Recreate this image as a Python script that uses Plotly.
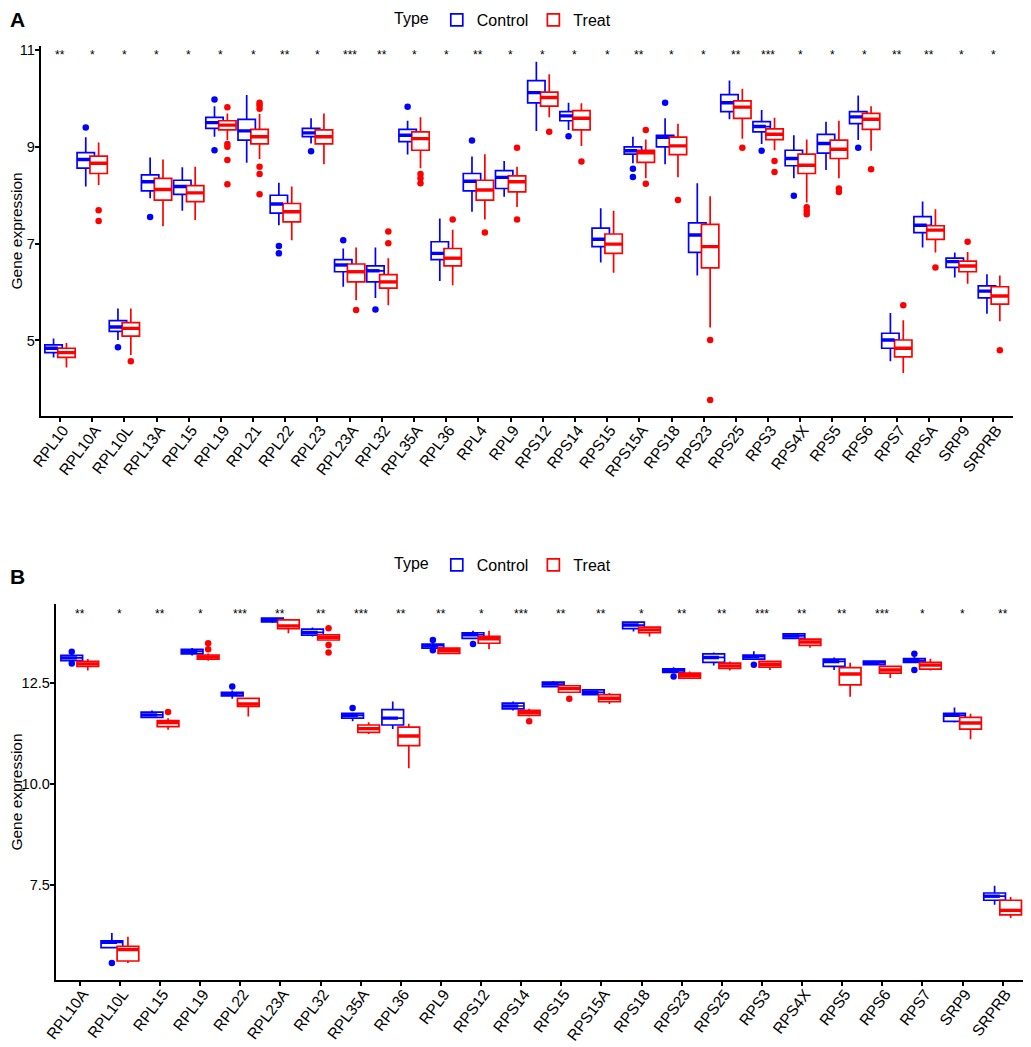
import plotly.graph_objects as go

# ---------------- panel A data ----------------
genes_a = ["RPL10", "RPL10A", "RPL10L", "RPL13A", "RPL15", "RPL19", "RPL21", "RPL22",
           "RPL23", "RPL23A", "RPL32", "RPL35A", "RPL36", "RPL4", "RPL9", "RPS12",
           "RPS14", "RPS15", "RPS15A", "RPS18", "RPS23", "RPS25", "RPS3", "RPS4X",
           "RPS5", "RPS6", "RPS7", "RPSA", "SRP9", "SRPRB"]
sig_a = ["**", "*", "*", "*", "*", "*", "*", "**", "*", "***", "**", "*", "*", "**", "*",
         "*", "*", "*", "**", "*", "*", "**", "***", "*", "*", "*", "**", "**", "*", "*"]

# control, panel A
ctrl_a_low = [4.65, 8.18, 5.01, 7.94, 7.68, 9.21, 8.67, 7.38, 9.07, 6.11, 5.88, 8.84, 6.23, 7.66, 7.97,
              9.33, 9.35, 6.61, 8.66, 8.64, 6.34, 9.57, 9.06, 8.35, 8.52, 9.14, 4.57, 6.92, 6.30, 5.55]
ctrl_a_q1 = [4.75, 8.56, 5.19, 8.09, 8.02, 9.38, 9.14, 7.63, 9.21, 6.42, 6.21, 9.11, 6.67, 8.09, 8.14,
             9.91, 9.54, 6.94, 8.85, 9.00, 6.82, 9.73, 9.31, 8.61, 8.87, 9.48, 4.84, 7.23, 6.51, 5.88]
ctrl_a_med = [4.84, 8.74, 5.28, 8.28, 8.18, 9.50, 9.33, 7.82, 9.29, 6.56, 6.44, 9.24, 6.80, 8.29, 8.37,
              10.12, 9.64, 7.09, 8.92, 9.20, 7.18, 9.91, 9.42, 8.76, 9.07, 9.62, 5.01, 7.38, 6.63, 6.02]
ctrl_a_q3 = [4.91, 8.88, 5.41, 8.42, 8.31, 9.61, 9.57, 8.00, 9.38, 6.67, 6.54, 9.36, 7.04, 8.45, 8.51,
             10.37, 9.73, 7.32, 9.00, 9.24, 7.43, 10.08, 9.52, 8.93, 9.26, 9.73, 5.15, 7.56, 6.70, 6.13]
ctrl_a_high = [5.04, 9.20, 5.66, 8.78, 8.58, 9.84, 10.07, 8.26, 9.59, 6.90, 6.92, 9.54, 7.52, 8.80, 8.71,
               10.76, 9.91, 7.73, 9.21, 9.59, 8.25, 10.37, 9.76, 9.24, 9.52, 10.06, 5.57, 7.87, 6.82, 6.37]
ctrl_a_out = [[], [9.40], [4.86], [7.55], [], [9.98, 8.93], [], [6.95, 6.80], [8.91], [7.07],
              [5.64], [9.83], [], [9.13], [], [], [9.22], [], [8.55, 8.38], [9.91],
              [], [], [8.92], [7.99], [], [8.98], [], [], [], []]

# treat, panel A
treat_a_low = [4.44, 8.21, 4.70, 7.36, 7.49, 9.14, 8.75, 7.07, 8.64, 5.83, 5.73, 8.56, 6.14, 7.50, 7.76,
               9.61, 9.02, 6.40, 8.35, 8.37, 5.27, 9.17, 8.93, 7.85, 8.35, 8.92, 4.33, 6.82, 6.17, 5.40]
treat_a_q1 = [4.65, 8.45, 5.09, 7.90, 7.87, 9.35, 9.06, 7.45, 9.06, 6.21, 6.08, 8.93, 6.54, 7.90, 8.07,
              9.84, 9.35, 6.80, 8.68, 8.84, 6.50, 9.59, 9.15, 8.45, 8.76, 9.36, 4.66, 7.09, 6.42, 5.75]
treat_a_med = [4.75, 8.66, 5.25, 8.12, 8.05, 9.45, 9.21, 7.66, 9.21, 6.42, 6.21, 9.17, 6.70, 8.11, 8.28,
               10.02, 9.59, 6.99, 8.88, 9.02, 6.94, 9.82, 9.26, 8.62, 8.95, 9.57, 4.84, 7.28, 6.54, 5.92]
treat_a_q3 = [4.84, 8.81, 5.37, 8.35, 8.20, 9.54, 9.36, 7.83, 9.35, 6.58, 6.36, 9.31, 6.90, 8.31, 8.40,
              10.13, 9.75, 7.20, 8.93, 9.20, 7.40, 9.95, 9.37, 8.85, 9.14, 9.69, 5.01, 7.37, 6.64, 6.11]
treat_a_high = [4.95, 9.09, 5.66, 8.74, 8.59, 9.69, 9.68, 8.18, 9.69, 6.92, 6.70, 9.61, 7.29, 8.85, 8.59,
                10.50, 9.90, 7.68, 9.15, 9.48, 7.98, 10.20, 9.60, 9.15, 9.54, 9.84, 5.42, 7.71, 6.83, 6.34]
treat_a_out = [[], [7.69, 7.47], [4.57], [], [], [9.82, 9.06, 9.00, 8.73, 8.23],
               [9.91, 9.86, 9.79, 8.59, 8.44, 8.02], [], [], [5.63], [7.25, 7.01], [8.44, 8.35, 8.25],
               [7.50], [7.23], [8.98, 7.50], [9.31], [8.70], [], [9.35, 8.24], [7.90], [5.01, 3.77],
               [8.98], [8.71, 8.48], [7.75, 7.68, 7.61], [8.14, 8.07], [8.54], [5.73], [6.51], [7.04], [4.80]]

# ---------------- panel B data ----------------
genes_b = ["RPL10A", "RPL10L", "RPL15", "RPL19", "RPL22", "RPL23A", "RPL32", "RPL35A", "RPL36",
           "RPL9", "RPS12", "RPS14", "RPS15", "RPS15A", "RPS18", "RPS23", "RPS25", "RPS3",
           "RPS4X", "RPS5", "RPS6", "RPS7", "SRP9", "SRPRB"]
sig_b = ["**", "*", "**", "*", "***", "**", "**", "***", "**", "**", "*", "***", "**", "**",
         "*", "**", "**", "***", "**", "**", "***", "*", "*", "**"]

ctrl_b_low = [13.01, 5.93, 11.62, 13.17, 12.10, 13.97, 13.64, 11.54, 11.35, 13.33, 13.59, 11.81,
              12.38, 12.18, 13.76, 12.73, 12.92, 13.06, 13.57, 12.81, 12.92, 12.98, 11.51, 7.01]
ctrl_b_q1 = [13.04, 5.95, 11.64, 13.21, 12.17, 14.00, 13.67, 11.62, 11.45, 13.35, 13.59, 11.85,
             12.40, 12.20, 13.83, 12.75, 13.00, 13.08, 13.59, 12.90, 12.94, 13.00, 11.54, 7.12]
ctrl_b_med = [13.11, 6.08, 11.70, 13.27, 12.22, 14.05, 13.74, 11.69, 11.62, 13.41, 13.68, 11.92,
              12.46, 12.26, 13.92, 12.80, 13.12, 13.14, 13.65, 13.02, 12.99, 13.04, 11.69, 7.22]
ctrl_b_q3 = [13.17, 6.12, 11.77, 13.32, 12.26, 14.09, 13.82, 11.74, 11.83, 13.45, 13.73, 11.99,
             12.51, 12.32, 13.99, 12.84, 13.21, 13.18, 13.70, 13.08, 13.03, 13.09, 11.74, 7.30]
ctrl_b_high = [13.20, 6.31, 11.81, 13.35, 12.30, 14.10, 13.86, 11.76, 12.03, 13.51, 13.78, 12.03,
               12.54, 12.34, 14.01, 12.88, 13.24, 13.27, 13.72, 13.12, 13.04, 13.13, 11.88, 7.48]
ctrl_b_out = [[13.26, 12.97], [5.57], [], [], [12.40], [], [], [11.87], [], [13.55, 13.30], [13.45], [],
              [], [], [], [12.65], [], [12.94], [], [], [], [13.21, 12.81], [], []]

treat_b_low = [12.80, 5.57, 11.33, 13.04, 11.66, 13.72, 13.54, 11.23, 10.38, 13.21, 13.32, 11.66,
               12.25, 11.97, 13.64, 12.59, 12.80, 12.81, 13.36, 12.15, 12.61, 12.80, 11.10, 6.68]
treat_b_q1 = [12.90, 5.62, 11.41, 13.08, 11.91, 13.83, 13.55, 11.27, 10.94, 13.22, 13.47, 11.69,
              12.26, 12.03, 13.73, 12.61, 12.85, 12.88, 13.42, 12.44, 12.73, 12.83, 11.35, 6.76]
treat_b_med = [12.96, 5.90, 11.51, 13.13, 11.97, 13.90, 13.62, 11.36, 11.18, 13.29, 13.58, 11.76,
               12.35, 12.11, 13.80, 12.67, 12.91, 12.95, 13.50, 12.71, 12.81, 12.93, 11.50, 6.87]
treat_b_q3 = [13.02, 5.98, 11.56, 13.18, 12.11, 14.05, 13.68, 11.45, 11.40, 13.35, 13.64, 11.81,
              12.42, 12.20, 13.87, 12.73, 12.98, 13.02, 13.57, 12.87, 12.90, 13.00, 11.64, 7.12]
treat_b_high = [13.08, 6.22, 11.62, 13.22, 12.12, 14.06, 13.70, 11.52, 11.48, 13.37, 13.78, 11.85,
                12.43, 12.24, 13.88, 12.77, 13.02, 13.04, 13.59, 12.99, 12.92, 13.09, 11.73, 7.20]
treat_b_out = [[], [], [11.77], [13.47, 13.32], [], [], [13.84, 13.43, 13.24], [], [], [], [], [11.54],
               [12.10], [], [], [], [], [], [], [], [], [], [], []]

BLUE = "#0000FF"
RED = "#FF0000"
OFF = 0.2     # dodge offset of each group
W = 0.54      # box width in category units
FONT = "Liberation Sans, Arial, sans-serif"

# the page body has an 8px margin, so the figure is laid out in page pixels minus that
PAGE_PAD = 8
FW, FH = 1031 - PAGE_PAD, 1047 - PAGE_PAD


def px(xp):
    return (xp - PAGE_PAD) / FW


def py(yp):
    return 1 - (yp - PAGE_PAD) / FH


fig = go.Figure()


def add_group(idx, name, color, low, q1, med, q3, high, outs, xa, ya, legend, side):
    pos = [i + side * OFF for i in idx]
    fig.add_trace(go.Box(
        x=pos, q1=q1, median=med, q3=q3, lowerfence=low, upperfence=high,
        name=name, width=W, whiskerwidth=0, fillcolor="white",
        line=dict(color=color, width=1.7), boxpoints=False,
        xaxis=xa, yaxis=ya, legend=legend, legendgroup=legend + name,
    ))
    # thicker median bar (control part hidden under the treat box is skipped)
    mx, my = [], []
    for p, m in zip(pos, med):
        left = p - W / 2
        right = p + W / 2 if side > 0 else p + 2 * OFF - W / 2
        mx += [left, right, None]
        my += [m, m, None]
    fig.add_trace(go.Scatter(x=mx, y=my, mode="lines", line=dict(color=color, width=3.4),
                             showlegend=False, hoverinfo="skip", xaxis=xa, yaxis=ya))
    ox, oy = [], []
    for p, vals in zip(pos, outs):
        ox += [p] * len(vals)
        oy += vals
    fig.add_trace(go.Scatter(x=ox, y=oy, mode="markers", marker=dict(color=color, size=6.5),
                             showlegend=False, xaxis=xa, yaxis=ya))


idx_a = list(range(len(genes_a)))
idx_b = list(range(len(genes_b)))

add_group(idx_a, "Control", BLUE, ctrl_a_low, ctrl_a_q1, ctrl_a_med, ctrl_a_q3, ctrl_a_high, ctrl_a_out,
          "x", "y", "legend", -1)
add_group(idx_a, "Treat", RED, treat_a_low, treat_a_q1, treat_a_med, treat_a_q3, treat_a_high, treat_a_out,
          "x", "y", "legend", 1)
add_group(idx_b, "Control", BLUE, ctrl_b_low, ctrl_b_q1, ctrl_b_med, ctrl_b_q3, ctrl_b_high, ctrl_b_out,
          "x2", "y2", "legend2", -1)
add_group(idx_b, "Treat", RED, treat_b_low, treat_b_q1, treat_b_med, treat_b_q3, treat_b_high, treat_b_out,
          "x2", "y2", "legend2", 1)

annotations = []
for i, s in enumerate(sig_a):
    annotations.append(dict(x=i, y=11.08, xref="x", yref="y", text=s, showarrow=False,
                            yanchor="top", font=dict(size=12, color="black", family=FONT)))
for i, s in enumerate(sig_b):
    annotations.append(dict(x=i, y=14.42, xref="x2", yref="y2", text=s, showarrow=False,
                            yanchor="top", font=dict(size=12, color="black", family=FONT)))
annotations.append(dict(x=0, y=py(20), xref="paper", yref="paper", text="<b>A</b>",
                        showarrow=False, xanchor="left", yanchor="middle",
                        font=dict(size=21, color="black", family=FONT)))
annotations.append(dict(x=0, y=py(576), xref="paper", yref="paper", text="<b>B</b>",
                        showarrow=False, xanchor="left", yanchor="middle",
                        font=dict(size=21, color="black", family=FONT)))

axis_common = dict(showline=True, linecolor="black", linewidth=2, ticks="outside", ticklen=4,
                   tickwidth=1.5, tickcolor="black", showgrid=False, zeroline=False, automargin=False,
                   tickfont=dict(size=15.5, color="black", family=FONT))
yaxis_common = dict(axis_common, tickfont=dict(size=14.5, color="black", family=FONT), ticklabelstandoff=-3)

legend_common = dict(orientation="h", xanchor="left",
                     font=dict(size=16, color="black", family=FONT),
                     title=dict(text="Type", side="left", font=dict(size=16, color="black", family=FONT)),
                     bgcolor="rgba(0,0,0,0)", itemwidth=30)

ytitle = dict(text="Gene expression", standoff=2, font=dict(size=15.5, color="black", family=FONT))

fig.update_layout(
    width=FW, height=FH,
    margin=dict(l=0, r=0, t=0, b=0, autoexpand=False),
    paper_bgcolor="white", plot_bgcolor="white",
    font=dict(family=FONT, color="black"),
    annotations=annotations,
    legend=dict(x=px(392), y=1 + 5 / FH, yanchor="top", **legend_common),
    legend2=dict(x=px(392), y=py(565), yanchor="middle", **legend_common),
    xaxis=dict(domain=[px(40.7), px(1012.7)], anchor="y", range=[-0.6, len(genes_a) - 0.4],
               tickmode="array", tickvals=idx_a, ticktext=genes_a, tickangle=-53,
               ticklabelstandoff=-7, ticklabelshift=3, **axis_common),
    yaxis=dict(domain=[py(416), py(45.7)], anchor="x", range=[3.44, 11.09],
               tickmode="array", tickvals=[5, 7, 9, 11], title=ytitle, **yaxis_common),
    xaxis2=dict(domain=[px(55.7), px(1026.7)], anchor="y2", range=[-0.6, len(genes_b) - 0.4],
                tickmode="array", tickvals=idx_b, ticktext=genes_b, tickangle=-53,
                ticklabelstandoff=-7, ticklabelshift=3, **axis_common),
    yaxis2=dict(domain=[py(980), py(604)], anchor="x2", range=[5.15, 14.44],
                tickmode="array", tickvals=[7.5, 10.0, 12.5], tickformat=".1f",
                title=ytitle, **yaxis_common),
)

fig.write_html("out.html")
